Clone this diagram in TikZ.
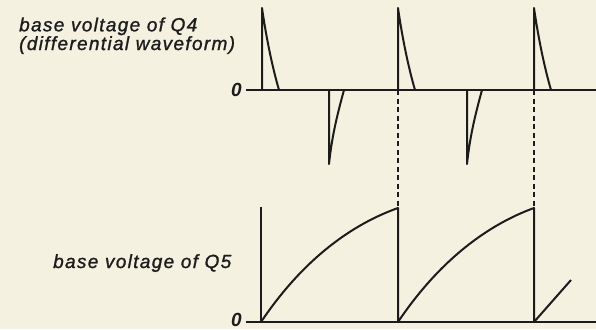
\documentclass[tikz,border=0pt]{standalone}
\usepackage{fontspec}
\setmainfont{Liberation Sans}
\usetikzlibrary{calc}

\definecolor{paper}{RGB}{244,241,224}
\definecolor{ink}{RGB}{28,28,28}

\begin{document}
\begin{tikzpicture}[x=1pt,y=-1pt]
    \tikzstyle{every node}=[font=\itshape\fontsize{19}{14}\selectfont\addfontfeature{LetterSpace=7,FakeBold=1.2}, inner sep=0pt, text=ink]
    \tikzstyle{wave}=[ink, line width=2pt, line join=round]
    \tikzstyle{zero}=[font=\bfseries\itshape\fontsize{19}{18}\selectfont]

    \fill[paper] (0,0) rectangle (596,329);
    \useasboundingbox (0,0) rectangle (596,329);

      \coordinate (O1) at (246,90);
      \coordinate (E1) at (596,90);
      \coordinate (O2) at (246,322);
      \coordinate (E2) at (596,322);
      \coordinate (Ax) at (261,207);   % top of the axis

      % labels
      \node[anchor=base west, align=left] (q4) at (19,50) {base voltage of Q4\\(differential waveform)};
      \node[anchor=base west] (q5) at (53,268) {base voltage of Q5};
      \node[zero, anchor=base east] (z1) at (242,96) {0};
      \node[zero, anchor=base east] (z2) at (242,326) {0};

      % zero lines
      \draw[wave] (O1) -- (E1);
      \draw[wave] (O2) -- (E2);
      \draw[wave] (Ax) -- (261,322);

      % positive spikes
      \foreach \x in {262,398,534}
        \draw[wave] (\x,90) -- (\x,8) .. controls (\x+4,36) and (\x+10,66) .. (\x+17,90);

      % negative spikes
      \foreach \x in {329,467}
        \draw[wave] (\x,90) -- (\x,164) .. controls (\x+3,135) and (\x+9,112) .. (\x+15,90);

      % dashed verticals
      \foreach \x in {398,534}
        \draw[wave, line width=1.8pt, dash pattern=on 5pt off 3.5pt] (\x,90) -- (\x,208);

      % sawtooth
      \draw[wave] (261,322) .. controls (304,258) and (353,224) .. (398,208) -- (398,322)
        .. controls (441,258) and (490,224) .. (534,208) -- (534,322) -- (571,280);

    \end{tikzpicture}
\end{document}
